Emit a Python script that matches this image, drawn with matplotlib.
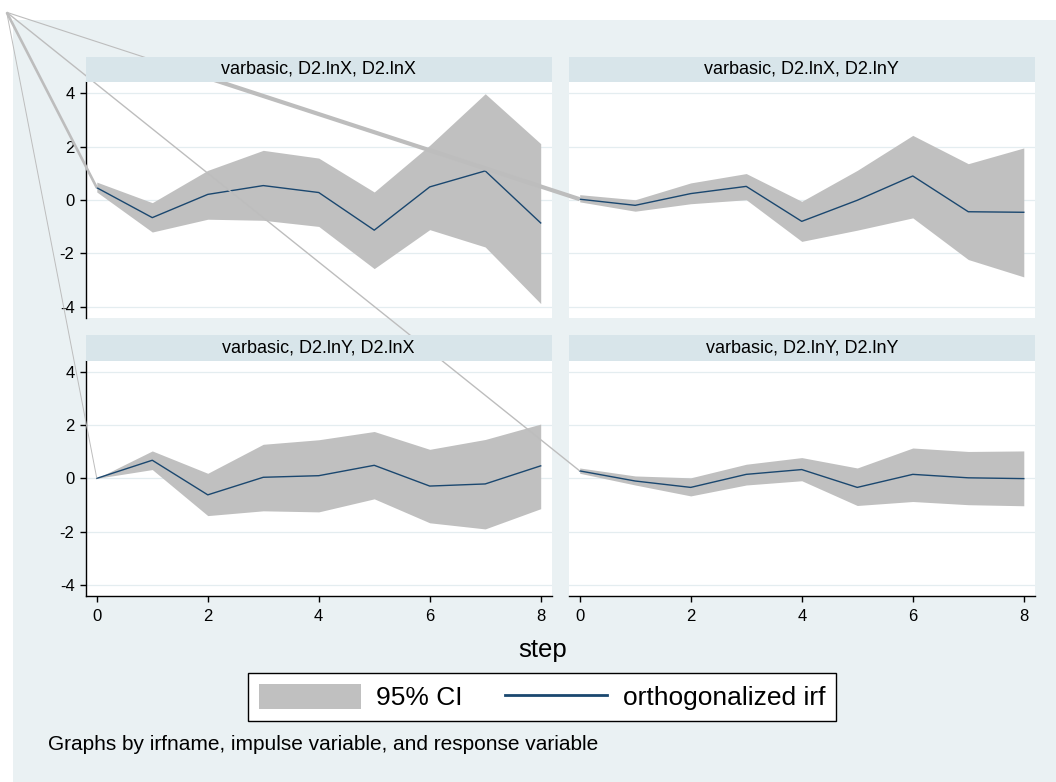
import matplotlib
matplotlib.use("Agg")
import matplotlib.pyplot as plt
from matplotlib.patches import Rectangle, Patch
from matplotlib.lines import Line2D
from matplotlib.transforms import Bbox, TransformedBbox

plt.rcParams['font.family'] = ['Liberation Sans', 'DejaVu Sans']
plt.rcParams['axes.unicode_minus'] = False

# ---------------- data ----------------
steps = [0, 1, 2, 3, 4, 5, 6, 7, 8]
titles = ["varbasic, D2.lnX, D2.lnX", "varbasic, D2.lnX, D2.lnY",
          "varbasic, D2.lnY, D2.lnX", "varbasic, D2.lnY, D2.lnY"]

irf_xx = [0.46, -0.66, 0.21, 0.54, 0.28, -1.13, 0.49, 1.09, -0.86]
up_xx = [0.67, -0.10, 1.11, 1.86, 1.57, 0.30, 2.05, 3.98, 2.11]
lo_xx = [0.30, -1.20, -0.72, -0.76, -0.99, -2.57, -1.11, -1.76, -3.88]

irf_xy = [0.03, -0.20, 0.24, 0.51, -0.80, -0.01, 0.90, -0.44, -0.46]
up_xy = [0.20, 0.01, 0.64, 0.99, -0.05, 1.11, 2.42, 1.36, 1.95]
lo_xy = [-0.07, -0.42, -0.14, 0.01, -1.55, -1.13, -0.67, -2.23, -2.88]

irf_yx = [0.00, 0.68, -0.62, 0.04, 0.10, 0.49, -0.29, -0.21, 0.47]
up_yx = [0.00, 1.03, 0.19, 1.28, 1.45, 1.76, 1.09, 1.46, 2.04]
lo_yx = [0.00, 0.33, -1.40, -1.22, -1.26, -0.77, -1.67, -1.90, -1.14]

irf_yy = [0.28, -0.10, -0.34, 0.15, 0.33, -0.34, 0.15, 0.02, -0.01]
up_yy = [0.39, 0.09, 0.02, 0.53, 0.78, 0.39, 1.14, 1.01, 1.03]
lo_yy = [0.19, -0.25, -0.66, -0.25, -0.09, -1.02, -0.87, -0.99, -1.03]

irfs = [irf_xx, irf_xy, irf_yx, irf_yy]
ups = [up_xx, up_xy, up_yx, up_yy]
los = [lo_xx, lo_xy, lo_yx, lo_yy]

yticks = [-4, -2, 0, 2, 4]
xticks = [0, 2, 4, 6, 8]
legend_labels = ["95% CI", "orthogonalized irf"]
xlabel = "step"
note = "Graphs by irfname, impulse variable, and response variable"

# ---------------- style ----------------
BG = '#EAF1F3'
STRIP = '#D8E5EA'
GRID = '#E4EDF0'
CI = '#C0C0C0'
NAVY = '#1A476F'
ART = '#BDBDBD'

W, H = 1056, 782
fig = plt.figure(figsize=(W / 100, H / 100), dpi=100)
fig.patch.set_facecolor('white')


def frac(x0, y0, x1, y1):
    return [x0 / W, 1 - y1 / H, (x1 - x0) / W, (y1 - y0) / H]


# outer light region
fig.add_artist(Rectangle((13.3 / W, 0), 1, 1 - 20 / H, transform=fig.transFigure,
                         facecolor=BG, edgecolor='none', zorder=0.2))

cols = [(85.7, 551.8), (568.6, 1034.9)]
rows = [(82.0, 318.0), (360.7, 596.0)]
strip_h = 25.5

axes = []
for i in range(4):
    r, c = divmod(i, 2)
    x0, x1 = cols[c]
    y0, y1 = rows[r]
    ax = fig.add_axes(frac(x0, y0, x1, y1), zorder=1)
    ax.set_facecolor('white')
    ax.fill_between(steps, los[i], ups[i], color=CI, linewidth=0, zorder=2)
    ax.plot(steps, irfs[i], color=NAVY, linewidth=1.0, zorder=3)
    ax.set_xlim(-0.2, 8.2)
    ax.set_ylim(-4.42, 4.42)
    ax.set_yticks(yticks)
    ax.set_xticks(xticks)
    for yv in yticks:
        ax.axhline(yv, color=GRID, linewidth=0.9, zorder=1)
    for s in ['top', 'right']:
        ax.spines[s].set_visible(False)
    ax.spines['left'].set_visible(c == 0)
    ax.spines['bottom'].set_visible(r == 1)
    ax.spines['left'].set_linewidth(1.0)
    ax.spines['bottom'].set_linewidth(1.0)
    ax.tick_params(axis='y', left=(c == 0), labelleft=(c == 0), length=4, width=1.0,
                   pad=4.0, labelsize=12)
    ax.tick_params(axis='x', bottom=(r == 1), labelbottom=(r == 1), length=4.5, width=1.0,
                   pad=5.0, labelsize=12)
    # strip title
    sax = fig.add_axes(frac(x0, y0 - strip_h, x1, y0), zorder=3)
    sax.set_facecolor(STRIP)
    sax.set_xticks([])
    sax.set_yticks([])
    for s in sax.spines.values():
        s.set_visible(False)
    sax.text(0.5, 0.5, titles[i], ha='center', va='center', fontsize=13,
             transform=sax.transAxes)
    axes.append(ax)

# stray lines from the top-left corner to each panel's first point
origin = (6.7 / W, 1 - 12.3 / H)
inv = fig.transFigure.inverted()
widths = [1.9, 0.8, 0.7, 1.0]
for i, ax in enumerate(axes):
    tx, ty = inv.transform(ax.transData.transform((steps[0], irfs[i][0])))
    ln = Line2D([origin[0], tx], [origin[1], ty], transform=fig.transFigure,
                color=ART, linewidth=widths[i], zorder=2, solid_capstyle='butt')
    fig.add_artist(ln)
    if i == 1:
        top = axes[0].get_position().y1
        thick = Line2D([origin[0], tx], [origin[1], ty], transform=fig.transFigure,
                       color=ART, linewidth=3.0, zorder=2, solid_capstyle='butt')
        thick.set_clip_box(TransformedBbox(Bbox([[0, 0], [1, top]]), fig.transFigure))
        fig.add_artist(thick)

# x title
fig.text(543 / W, 1 - 650 / H, xlabel, ha='center', va='center', fontsize=18.5)

# legend
handles = [Patch(facecolor=CI, edgecolor='none'),
           Line2D([], [], color=NAVY, linewidth=2.0)]
leg = fig.legend(handles, legend_labels, loc='center',
                 bbox_to_anchor=(542 / W, 1 - 697 / H), ncol=2, fontsize=19,
                 frameon=True, fancybox=False, edgecolor='black', facecolor='white',
                 framealpha=1, handlelength=3.85, handleheight=1.1,
                 handletextpad=0.6, columnspacing=1.6, borderpad=0.4)
leg.get_frame().set_linewidth(1.0)
leg.set_zorder(5)

# note
fig.text(47.7 / W, 1 - 745 / H, note, ha='left', va='center', fontsize=15)

fig.savefig('out.png', dpi=100, facecolor='white')
